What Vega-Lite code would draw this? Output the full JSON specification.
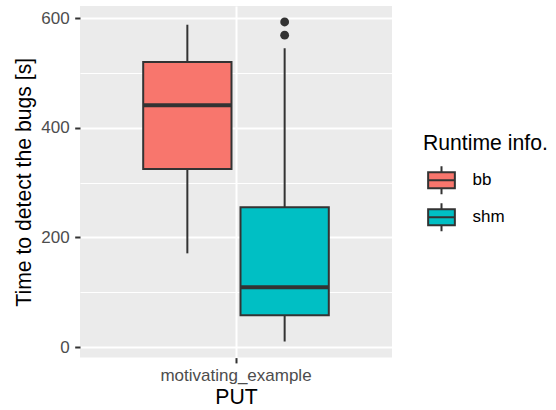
{
  "$schema": "https://vega.github.io/schema/vega-lite/v6.json",
  "width": 312,
  "height": 351.6,
  "autosize": {"type": "none"},
  "padding": {"left": 80, "top": 6, "right": 164, "bottom": 52.4},
  "background": "white",
  "view": {"fill": "#EBEBEB", "stroke": null},
  "config": {
    "font": "Liberation Sans",
    "axis": {
      "labelFont": "Liberation Sans",
      "titleFont": "Liberation Sans",
      "labelColor": "#4D4D4D",
      "labelFontSize": 17,
      "titleFontSize": 21.2,
      "titleFontWeight": "normal",
      "titleColor": "#000000",
      "tickColor": "#333333",
      "tickWidth": 2,
      "tickSize": 5.3,
      "domain": false,
      "gridColor": "#FFFFFF",
      "gridOpacity": 1
    },
    "legend": {
      "titleFont": "Liberation Sans",
      "labelFont": "Liberation Sans",
      "titleFontSize": 21.2,
      "titleFontWeight": "normal",
      "titleColor": "#000000",
      "labelFontSize": 17,
      "labelColor": "#000000"
    }
  },
  "datasets": {
    "boxes": [
      {"PUT": "motivating_example", "runtime": "bb", "lower": 171, "q1": 325, "median": 441, "q3": 520, "upper": 588},
      {"PUT": "motivating_example", "runtime": "shm", "lower": 10, "q1": 58, "median": 109, "q3": 255, "upper": 545}
    ],
    "outliers": [
      {"PUT": "motivating_example", "runtime": "shm", "time": 593},
      {"PUT": "motivating_example", "runtime": "shm", "time": 569}
    ]
  },
  "encoding": {
    "x": {
      "field": "PUT",
      "type": "nominal",
      "title": "PUT",
      "scale": {"paddingOuter": 0.3405, "paddingInner": 0},
      "axis": {
        "bandPosition": 0.5,
        "labelAngle": 0,
        "labelPadding": 4.6,
        "titlePadding": 3,
        "grid": true,
        "gridWidth": 2
      }
    },
    "xOffset": {
      "field": "runtime",
      "type": "nominal",
      "scale": {"paddingInner": 0.0925, "paddingOuter": 0}
    }
  },
  "layer": [
    {
      "data": {"name": "boxes"},
      "mark": {"type": "rule", "color": "#333333", "strokeWidth": 2},
      "encoding": {
        "y": {
          "field": "lower",
          "type": "quantitative",
          "title": "Time to detect the bugs [s]",
          "scale": {"domain": [-19.15, 622.15], "nice": false, "zero": false},
          "axis": {
            "values": [0, 100, 200, 300, 400, 500, 600],
            "labelExpr": "datum.value % 200 === 0 ? datum.label : ''",
            "gridWidth": {"condition": {"test": "datum.value % 200 === 0", "value": 2}, "value": 1},
            "tickOpacity": {"condition": {"test": "datum.value % 200 === 0", "value": 1}, "value": 0},
            "labelPadding": 5.5,
            "titlePadding": 6
          }
        },
        "y2": {"field": "upper"}
      }
    },
    {
      "data": {"name": "boxes"},
      "mark": {"type": "bar", "stroke": "#333333", "strokeWidth": 2, "opacity": 1},
      "encoding": {
        "y": {"field": "q1", "type": "quantitative"},
        "y2": {"field": "q3"},
        "fill": {
          "field": "runtime",
          "type": "nominal",
          "title": "Runtime info.",
          "scale": {"domain": ["bb", "shm"], "range": ["#F8766D", "#00BFC4"]},
          "legend": {
            "orient": "none",
            "legendX": 343,
            "legendY": 126.6,
            "padding": 0,
            "titlePadding": 8,
            "rowPadding": 0,
            "symbolType": "M-0.77,-0.46H0.77V0.46H-0.77Z M-0.77,0H0.77 M0,-0.46V-0.81 M0,0.46V0.81",
            "symbolSize": 1204,
            "symbolStrokeColor": "#333333",
            "symbolStrokeWidth": 2,
            "symbolOpacity": 1,
            "labelOffset": 12.6
          }
        }
      }
    },
    {
      "data": {"name": "boxes"},
      "mark": {"type": "tick", "color": "#333333", "thickness": 4, "size": 88, "opacity": 1},
      "encoding": {
        "y": {"field": "median", "type": "quantitative"}
      }
    },
    {
      "data": {"name": "outliers"},
      "mark": {"type": "point", "filled": true, "color": "#333333", "size": 78, "opacity": 1},
      "encoding": {
        "y": {"field": "time", "type": "quantitative"}
      }
    }
  ]
}
